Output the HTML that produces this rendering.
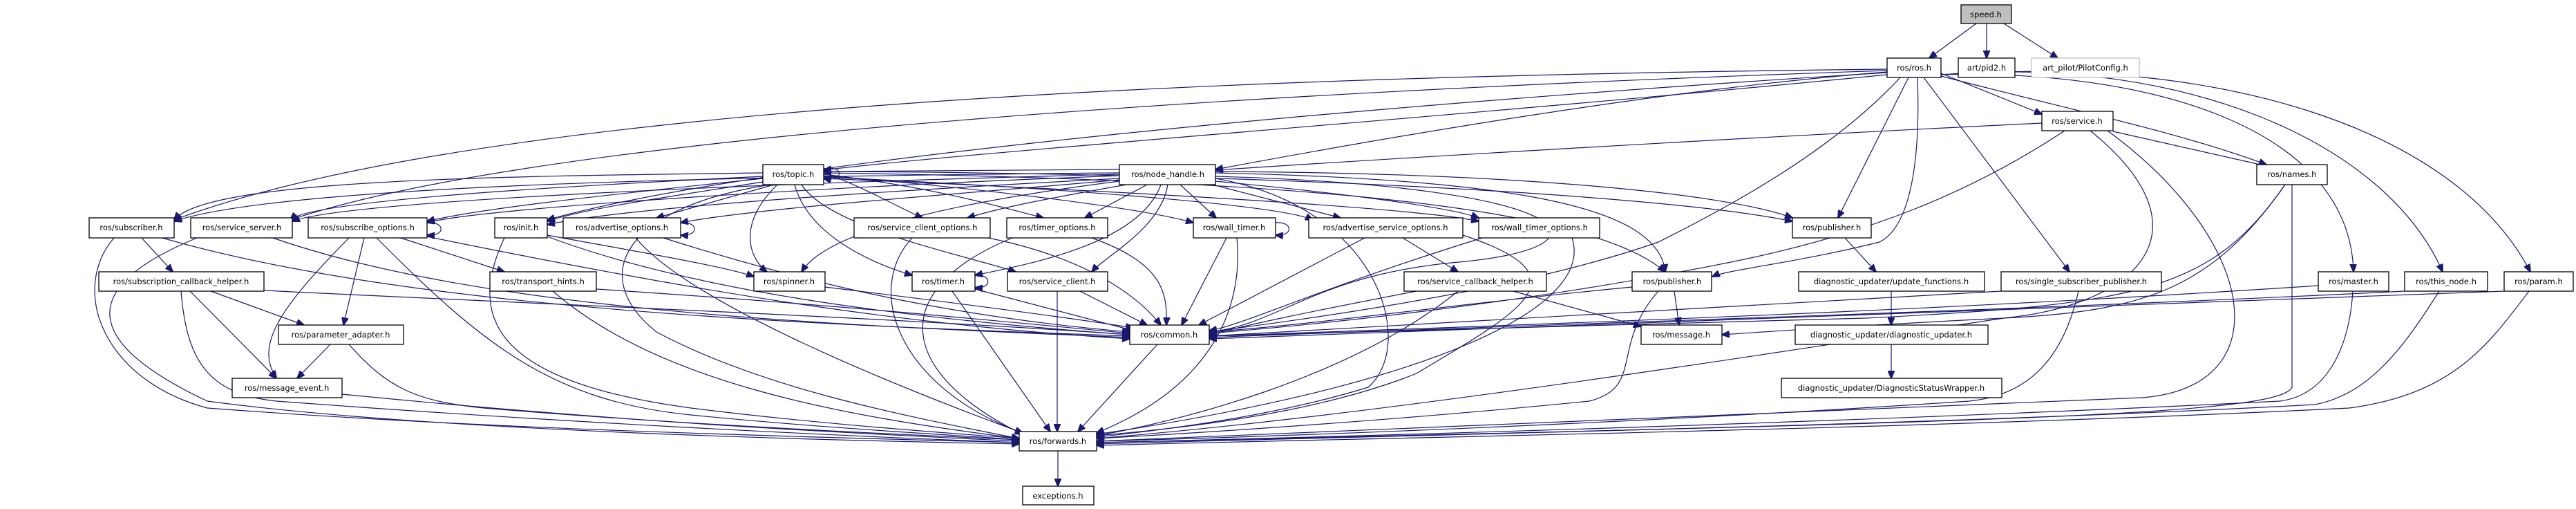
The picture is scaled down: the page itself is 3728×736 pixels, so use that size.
<!DOCTYPE html>
<html><head><meta charset="utf-8"><style>
html,body{margin:0;padding:0;background:#fff;}
svg{display:block;}
text{font-family:"DejaVu Sans","Liberation Sans",sans-serif;font-size:11.5px;text-anchor:middle;fill:#000;}
.e path{fill:none;stroke:#191970;stroke-width:1.2;}
rect{fill:#fff;stroke:#000;stroke-width:1.3;}
</style></head><body>
<svg width="3728" height="736" viewBox="0 0 3728 736" xmlns="http://www.w3.org/2000/svg">
<defs><marker id="a" markerUnits="userSpaceOnUse" markerWidth="12" markerHeight="10" refX="11" refY="5" orient="auto"><path d="M0,0 L12,5 L0,10 z" fill="#191970" stroke="#191970"/></marker></defs>
<g class="e" marker-end="url(#a)">
<path d="M2860 34 L2792 84"/><path d="M2875 34 L2875 84"/><path d="M2900 34 L2978 84"/>
<path d="M2809 106 L2955 165"/>
<path d="M2809 110 C3000 160 3150 190 3280 238"/>
<path d="M2809 108 C3100 100 3400 180 3406 393"/>
<path d="M2809 108 C3150 80 3450 200 3535 393"/>
<path d="M2809 108 C3200 80 3550 180 3662 393"/>
<path d="M2784 112 L2995 393"/>
<path d="M2762 112 L2660 315"/>
<path d="M2775 112 C2780 250 2760 330 2720 350 C2600 380 2500 390 2478 400"/>
<path d="M2750 112 C2650 220 2500 300 2400 350 C2200 420 1900 460 1750 480"/>
<path d="M2731 104 C2400 130 2000 200 1759 245"/>
<path d="M2731 100 C1800 110 700 150 252 318"/>
<path d="M2731 102 C1900 130 800 190 420 318"/>
<path d="M2731 105 C2000 150 1100 230 792 318"/>
<path d="M2731 108 C2100 170 1400 220 1192 246"/>
<path d="M2955 178 C2500 200 2000 230 1759 246"/>
<path d="M3058 190 L3280 240"/>
<path d="M2988 189 C2850 280 2700 340 2500 380 C2200 440 1900 470 1750 482"/>
<path d="M3025 189 C3200 330 3100 440 2900 460 C2500 520 2000 600 1587 634"/>
<path d="M3050 189 C3270 350 3300 560 3100 575 C2900 580 2400 600 1587 638"/>
<path d="M3317 267 L3317 560 C3300 600 2900 610 1587 640"/>
<path d="M3307 267 C3200 420 3100 440 2700 460 C2200 475 1900 480 1750 486"/>
<path d="M3307 267 C3200 420 3100 450 2900 460 C2700 470 2550 480 2492 484"/>
<path d="M1104 250 C700 255 300 260 252 318"/>
<path d="M1104 255 C800 270 450 290 420 318"/>
<path d="M1104 258 C900 280 700 300 618 320"/>
<path d="M1110 262 C1000 280 850 300 792 320"/>
<path d="M1120 267 L950 315"/>
<path d="M1125 267 C1070 320 1080 370 1110 393"/>
<path d="M1150 267 C1170 340 1260 380 1320 398"/>
<path d="M1160 267 C1200 330 1400 370 1470 393"/>
<path d="M1192 250 C1250 270 1300 300 1335 315"/>
<path d="M1192 252 C1350 270 1450 300 1510 315"/>
<path d="M1192 254 C1400 270 1650 300 1727 322"/>
<path d="M1192 256 C1500 270 1850 295 1900 318"/>
<path d="M1192 258 C1600 275 2050 300 2140 320"/>
<path d="M1192 248 C1800 250 2400 280 2594 320"/>
<path d="M1192 250 C1900 260 2300 300 2410 393"/>
<path d="M1115 267 C900 300 850 400 950 480 C1100 560 1300 600 1475 634"/>
<path d="M1192 244 C1222 238 1222 264 1192 258"/>
<path d="M1620 245 L1192 248"/>
<path d="M1620 250 C1000 255 400 270 252 320"/>
<path d="M1620 252 C1100 265 500 290 423 320"/>
<path d="M1620 254 C1200 270 700 300 618 322"/>
<path d="M1620 258 C1300 275 900 300 792 325"/>
<path d="M1620 260 C1400 280 1100 300 985 322"/>
<path d="M1630 267 C1500 290 1450 300 1400 315"/>
<path d="M1660 267 L1570 315"/>
<path d="M1708 267 L1760 315"/>
<path d="M1755 267 L1940 315"/>
<path d="M1759 262 C1950 280 2100 300 2140 315"/>
<path d="M1759 250 C2200 260 2400 300 2410 393"/>
<path d="M1759 248 C2200 250 2500 280 2594 315"/>
<path d="M1680 267 C1650 350 1500 380 1411 398"/>
<path d="M1690 267 C1680 330 1600 370 1580 393"/>
<path d="M1620 262 C1400 290 1200 330 1160 393"/>
<path d="M1759 255 C2300 270 2350 360 2100 380 C1900 400 1850 470 1750 480"/>
<path d="M1759 258 C2000 300 2050 500 1980 560 C1850 600 1700 620 1587 632"/>
<path d="M205 344 L250 393"/>
<path d="M235 344 C600 450 1200 470 1635 486"/>
<path d="M165 344 C100 420 150 550 300 590 C700 620 1100 630 1475 640"/>
<path d="M395 344 C700 450 1200 470 1635 488"/>
<path d="M285 344 C100 420 130 500 300 580 C600 620 1100 635 1475 642"/>
<path d="M618 322 C645 320 645 342 618 340"/>
<path d="M580 344 L730 393"/>
<path d="M527 344 L497 470"/>
<path d="M505 344 C400 450 370 500 400 547"/>
<path d="M618 342 C1000 420 1300 470 1635 490"/>
<path d="M545 344 C700 500 800 580 1000 600 C1200 620 1400 630 1475 636"/>
<path d="M792 340 C900 360 1050 385 1091 400"/>
<path d="M792 342 C1000 420 1300 460 1635 484"/>
<path d="M730 344 C680 450 700 550 1000 590 C1200 615 1400 628 1475 634"/>
<path d="M985 322 C1012 320 1012 342 985 340"/>
<path d="M920 344 C1000 440 1300 560 1480 626"/>
<path d="M960 344 C1200 420 1400 460 1635 480"/>
<path d="M305 421 L440 470"/>
<path d="M275 421 L400 547"/>
<path d="M262 421 C270 520 300 570 400 580 C800 610 1200 630 1475 640"/>
<path d="M382 420 C900 445 1300 460 1635 484"/>
<path d="M863 418 C1200 440 1400 460 1635 482"/>
<path d="M800 421 C950 550 1200 600 1475 634"/>
<path d="M1194 415 C1400 440 1550 460 1640 474"/>
<path d="M478 498 L430 547"/>
<path d="M505 498 C560 560 600 580 700 590 C1000 615 1300 628 1475 636"/>
<path d="M495 570 C900 610 1200 625 1475 638"/>
<path d="M1430 344 C1560 370 1640 420 1680 470"/>
<path d="M1320 344 C1250 420 1300 560 1480 626"/>
<path d="M1580 344 C1680 380 1690 420 1688 470"/>
<path d="M1465 344 C1280 420 1300 540 1480 628"/>
<path d="M1846 322 C1872 320 1872 342 1846 340"/>
<path d="M1775 344 L1710 470"/>
<path d="M1790 344 C1800 450 1750 560 1587 626"/>
<path d="M2030 344 L2110 393"/>
<path d="M1975 344 L1735 470"/>
<path d="M2117 340 C2300 400 2200 450 2050 540 C1900 600 1700 620 1587 630"/>
<path d="M2145 344 C1900 420 1800 470 1750 478"/>
<path d="M2275 344 C2310 450 2050 560 1587 628"/>
<path d="M1411 398 C1436 396 1436 418 1411 416"/>
<path d="M1411 418 L1640 478"/>
<path d="M1378 421 L1520 624"/>
<path d="M1563 421 L1660 470"/>
<path d="M1530 421 L1530 624"/>
<path d="M2190 421 L2375 472"/>
<path d="M2050 421 C1900 450 1800 470 1750 485"/>
<path d="M2110 421 C1950 550 1700 610 1587 630"/>
<path d="M2423 421 L2430 470"/>
<path d="M2362 415 C2100 440 1900 470 1750 480"/>
<path d="M2400 421 C2330 500 2380 560 2300 580 C2000 610 1700 628 1587 634"/>
<path d="M2670 344 L2715 393"/>
<path d="M2737 421 L2737 470"/>
<path d="M2737 498 L2737 547"/>
<path d="M2896 421 C2400 450 2000 470 1750 486"/>
<path d="M3008 421 C2990 500 2950 570 2850 580 C2400 610 1900 630 1587 638"/>
<path d="M3355 413 C2800 450 2200 470 1750 486"/>
<path d="M3405 421 C3400 500 3370 570 3300 580 C2700 610 2000 630 1587 640"/>
<path d="M3480 421 C2900 450 2200 470 1750 488"/>
<path d="M3530 421 C3480 500 3430 570 3350 585 C2800 615 2000 630 1587 642"/>
<path d="M3624 421 C2900 450 2200 475 1750 490"/>
<path d="M3660 421 C3600 500 3550 570 3400 590 C2800 620 2000 633 1587 644"/>
<path d="M1675 498 L1560 624"/>
<path d="M1531 652 L1531 703"/>
</g>
<g>
<rect x="2838" y="7" width="73" height="27" style="fill:#bfbfbf"/><text x="2874" y="25">speed.h</text>
<rect x="2731" y="84" width="78" height="28"/><text x="2770" y="102">ros/ros.h</text>
<rect x="2834" y="84" width="82" height="28"/><text x="2875" y="102">art/pid2.h</text>
<rect x="2940" y="84" width="156" height="28" style="stroke:#bfbfbf"/><text x="3018" y="102">art_pilot/PilotConfig.h</text>
<rect x="2955" y="161" width="103" height="28"/><text x="3006" y="179">ros/service.h</text>
<rect x="1104" y="238" width="88" height="29"/><text x="1148" y="256">ros/topic.h</text>
<rect x="1620" y="238" width="139" height="29"/><text x="1690" y="256">ros/node_handle.h</text>
<rect x="3266" y="238" width="102" height="29"/><text x="3317" y="256">ros/names.h</text>
<rect x="129" y="315" width="123" height="29"/><text x="190" y="333">ros/subscriber.h</text>
<rect x="276" y="315" width="147" height="29"/><text x="350" y="333">ros/service_server.h</text>
<rect x="446" y="315" width="172" height="29"/><text x="532" y="333">ros/subscribe_options.h</text>
<rect x="716" y="315" width="76" height="29"/><text x="754" y="333">ros/init.h</text>
<rect x="815" y="315" width="170" height="29"/><text x="900" y="333">ros/advertise_options.h</text>
<rect x="1236" y="315" width="197" height="29"/><text x="1335" y="333">ros/service_client_options.h</text>
<rect x="1457" y="315" width="146" height="29"/><text x="1530" y="333">ros/timer_options.h</text>
<rect x="1727" y="315" width="119" height="29"/><text x="1786" y="333">ros/wall_timer.h</text>
<rect x="1894" y="315" width="223" height="29"/><text x="2005" y="333">ros/advertise_service_options.h</text>
<rect x="2140" y="315" width="175" height="29"/><text x="2228" y="333">ros/wall_timer_options.h</text>
<rect x="2594" y="315" width="114" height="29"/><text x="2651" y="333">ros/publisher.h</text>
<rect x="143" y="393" width="239" height="28"/><text x="262" y="411">ros/subscription_callback_helper.h</text>
<rect x="709" y="393" width="154" height="28"/><text x="786" y="411">ros/transport_hints.h</text>
<rect x="1091" y="393" width="103" height="28"/><text x="1142" y="411">ros/spinner.h</text>
<rect x="1320" y="393" width="91" height="28"/><text x="1365" y="411">ros/timer.h</text>
<rect x="1458" y="393" width="145" height="28"/><text x="1530" y="411">ros/service_client.h</text>
<rect x="2032" y="393" width="206" height="28"/><text x="2135" y="411">ros/service_callback_helper.h</text>
<rect x="2362" y="393" width="115" height="28"/><text x="2420" y="411">ros/publisher.h</text>
<rect x="2603" y="393" width="269" height="28"/><text x="2737" y="411">diagnostic_updater/update_functions.h</text>
<rect x="2896" y="393" width="232" height="28"/><text x="3012" y="411">ros/single_subscriber_publisher.h</text>
<rect x="3355" y="393" width="102" height="28"/><text x="3406" y="411">ros/master.h</text>
<rect x="3480" y="393" width="120" height="28"/><text x="3540" y="411">ros/this_node.h</text>
<rect x="3624" y="393" width="100" height="28"/><text x="3674" y="411">ros/param.h</text>
<rect x="403" y="470" width="181" height="28"/><text x="493" y="488">ros/parameter_adapter.h</text>
<rect x="1635" y="470" width="115" height="28"/><text x="1692" y="488">ros/common.h</text>
<rect x="2375" y="470" width="117" height="28"/><text x="2433" y="488">ros/message.h</text>
<rect x="2598" y="470" width="279" height="28"/><text x="2737" y="488">diagnostic_updater/diagnostic_updater.h</text>
<rect x="336" y="547" width="159" height="28"/><text x="415" y="565">ros/message_event.h</text>
<rect x="2578" y="547" width="319" height="28"/><text x="2737" y="565">diagnostic_updater/DiagnosticStatusWrapper.h</text>
<rect x="1475" y="624" width="112" height="28"/><text x="1531" y="642">ros/forwards.h</text>
<rect x="1480" y="703" width="103" height="27"/><text x="1531" y="721">exceptions.h</text>
</g>
</svg>
</body></html>
